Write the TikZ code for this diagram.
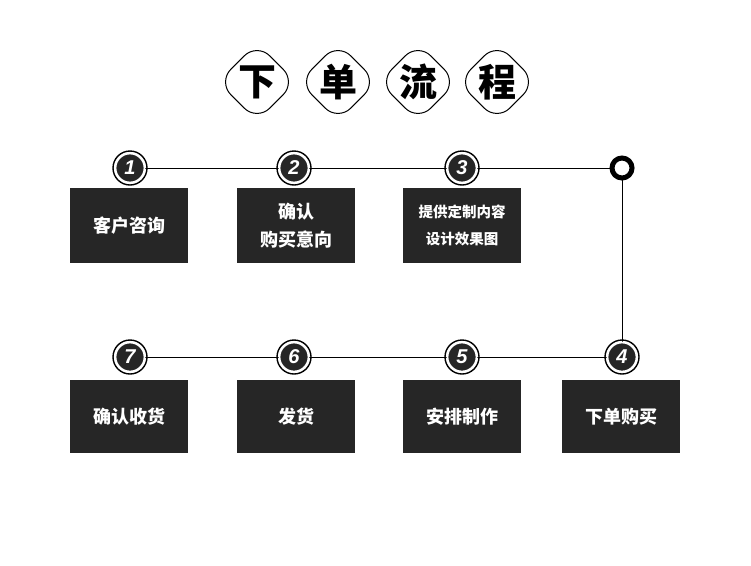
\documentclass[tikz,border=0pt]{standalone}
\usepackage{fontspec}
\newfontfamily\cjk{Noto Sans CJK SC}
\newfontfamily\numfont{Liberation Sans}
\usepackage{tikz}
\tikzset{
  titlebox/.style={draw, line width=1pt, rotate=45, rounded corners=18pt, minimum size=55pt, inner sep=0pt},
  titletext/.style={font=\cjk\bfseries\fontsize{38}{38}\selectfont},
  stepnum/.style={circle, fill=black!85, draw=white, line width=1.8pt, minimum size=29pt, inner sep=0pt,
    text=white, font=\numfont\bfseries\itshape\fontsize{20}{20}\selectfont,
    append after command={\pgfextra{\draw[line width=1.4pt] (\tikzlastnode.center) circle (17pt);}}},
  stepbox/.style={fill=black!85, text=white, minimum width=118pt, minimum height=75pt, inner sep=0pt,
    align=center, font=\cjk\bfseries\fontsize{18}{28}\selectfont}
}
\begin{document}
\begin{tikzpicture}[x=1pt, y=-1pt]
\useasboundingbox (0,0) rectangle (751,565);
% title
\foreach \t/\x [count=\i] in {下/257, 单/338, 流/418, 程/497} {
  \node[titlebox] (tb\i) at (\x, 82) {};
  \node[titletext] at (tb\i.center) {\t};
}
% connecting line
\coordinate (c1) at (130,168);
\coordinate (c2) at (294,168);
\coordinate (c3) at (462,168);
\coordinate (turn) at (622,168);
\coordinate (c4) at (622,357);
\coordinate (c5) at (462,357);
\coordinate (c6) at (294,357);
\coordinate (c7) at (130,357);
\draw[line width=0.6pt] (c1) -- (turn) -- (c4) -- (c7);
\node[circle, draw, line width=5pt, fill=white, minimum size=20pt, inner sep=0pt] (ring) at (turn) {};
% steps
\foreach \n in {1,...,7} {
  \node[stepnum] (n\n) at (c\n) {\n};
}
\node[stepbox, anchor=north] (s1) at (129,188) {客户咨询};
\node[stepbox, anchor=north] (s2) at (296,188) {确认\\购买意向};
\node[stepbox, anchor=north, font=\cjk\bfseries\fontsize{14.5}{27}\selectfont] (s3) at (462,188) {提供定制内容\\设计效果图};
\node[stepbox, anchor=north, minimum height=73pt] (s4) at (621,380) {下单购买};
\node[stepbox, anchor=north, minimum height=73pt] (s5) at (462,380) {安排制作};
\node[stepbox, anchor=north, minimum height=73pt] (s6) at (296,380) {发货};
\node[stepbox, anchor=north, minimum height=73pt] (s7) at (129,380) {确认收货};
\end{tikzpicture}
\end{document}
